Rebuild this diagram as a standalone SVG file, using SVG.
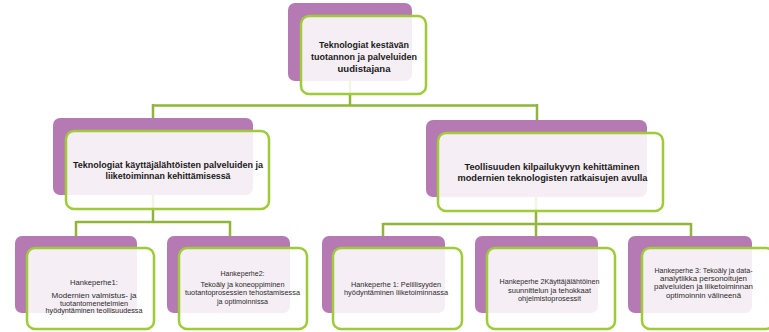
<svg xmlns="http://www.w3.org/2000/svg" width="769" height="332" viewBox="0 0 769 332">
  <style>
    .back { fill: #b57ab3; }
    .front { fill: #ffffff; fill-opacity: 0.87; stroke: #9fcb3a; stroke-width: 2.5; }
    .link { fill: none; stroke: #8fb63a; stroke-width: 2.5; }
    .h1 { font-family: "Liberation Sans", Arial, sans-serif; font-weight: bold; font-size: 9px; fill: #1a1a1a; text-anchor: middle; }
    .h3 { font-family: "Liberation Sans", Arial, sans-serif; font-size: 7.6px; fill: #2a2a2a; text-anchor: middle; }
  </style>
  <rect width="769" height="332" fill="#ffffff"/>

  <!-- connectors, drawn beneath the boxes -->
  <g id="connectors">
    <path class="link" d="M350,80 V105.5 M153,105.5 H537 M153,104 V119 M537,104 V121"/>
    <path class="link" d="M153,194 V222 M76,222 H230 M76,221 V237 M230,221 V237"/>
    <path class="link" d="M536,196 V224 M383,224 H691 M383,223 V237 M536,223 V237 M691,223 V237"/>
  </g>

  <!-- top level -->
  <g id="n-root">
    <rect class="back" x="288" y="3" width="124" height="78" rx="7"/>
    <rect class="front" x="301" y="16" width="125" height="78" rx="8"/>
    <text class="h1"><tspan x="364" y="47.5" textLength="90" lengthAdjust="spacingAndGlyphs">Teknologiat kestävän</tspan><tspan x="364" y="60" textLength="106" lengthAdjust="spacingAndGlyphs">tuotannon ja palveluiden</tspan><tspan x="364" y="72" textLength="53" lengthAdjust="spacingAndGlyphs">uudistajana</tspan></text>
  </g>

  <!-- second level -->
  <g id="n-user-driven">
    <rect class="back" x="53" y="118" width="200" height="77" rx="7"/>
    <rect class="front" x="66" y="131" width="203" height="78" rx="8"/>
    <text class="h1"><tspan x="168" y="167.5" textLength="190" lengthAdjust="spacingAndGlyphs">Teknologiat käyttäjälähtöisten palveluiden ja</tspan><tspan x="168" y="178.5" textLength="125" lengthAdjust="spacingAndGlyphs">liiketoiminnan kehittämisessä</tspan></text>
  </g>

  <g id="n-industry">
    <rect class="back" x="426" y="120" width="221" height="77" rx="7"/>
    <rect class="front" x="438" y="133" width="225" height="78" rx="8"/>
    <text class="h1"><tspan x="552" y="169.5" textLength="175" lengthAdjust="spacingAndGlyphs">Teollisuuden kilpailukyvyn kehittäminen</tspan><tspan x="552.5" y="181" textLength="190" lengthAdjust="spacingAndGlyphs">modernien teknologisten ratkaisujen avulla</tspan></text>
  </g>

  <!-- third level -->
  <g id="n-family-1a">
    <rect class="back" x="15" y="236" width="122" height="77" rx="7"/>
    <rect class="front" x="27" y="248" width="127" height="81" rx="8"/>
    <text class="h3"><tspan x="94" y="285.3" textLength="48" lengthAdjust="spacingAndGlyphs">Hankeperhe1:</tspan><tspan x="94" y="298" textLength="85" lengthAdjust="spacingAndGlyphs">Modernien valmistus- ja</tspan><tspan x="94" y="305.5" textLength="68" lengthAdjust="spacingAndGlyphs">tuotantomenetelmien</tspan><tspan x="94" y="313" textLength="97" lengthAdjust="spacingAndGlyphs">hyödyntäminen teollisuudessa</tspan></text>
  </g>

  <g id="n-family-2a">
    <rect class="back" x="167" y="236" width="123" height="77" rx="7"/>
    <rect class="front" x="179" y="248" width="128" height="81" rx="8"/>
    <text class="h3"><tspan x="242.5" y="276" textLength="44" lengthAdjust="spacingAndGlyphs">Hankeperhe2:</tspan><tspan x="242.5" y="286.8" textLength="84" lengthAdjust="spacingAndGlyphs">Tekoäly ja koneoppiminen</tspan><tspan x="242.5" y="295.2" textLength="115" lengthAdjust="spacingAndGlyphs">tuotantoprosessien tehostamisessa</tspan><tspan x="242.5" y="303.5" textLength="51" lengthAdjust="spacingAndGlyphs">ja optimoinnissa</tspan></text>
  </g>

  <g id="n-family-1b">
    <rect class="back" x="322" y="236" width="123" height="77" rx="7"/>
    <rect class="front" x="333" y="248" width="129" height="81" rx="8"/>
    <text class="h3"><tspan x="396" y="286.7" textLength="90" lengthAdjust="spacingAndGlyphs">Hankeperhe 1: Pelillisyyden</tspan><tspan x="396" y="295" textLength="104" lengthAdjust="spacingAndGlyphs">hyödyntäminen liiketoiminnassa</tspan></text>
  </g>

  <g id="n-family-2b">
    <rect class="back" x="475" y="236" width="123" height="77" rx="7"/>
    <rect class="front" x="487" y="248" width="128" height="81" rx="8"/>
    <text class="h3"><tspan x="549.5" y="284.3" textLength="100" lengthAdjust="spacingAndGlyphs">Hankeperhe 2Käyttäjälähtöinen</tspan><tspan x="549.5" y="292.7" textLength="83" lengthAdjust="spacingAndGlyphs">suunnittelun ja tehokkaat</tspan><tspan x="549.5" y="301" textLength="63" lengthAdjust="spacingAndGlyphs">ohjelmistoprosessit</tspan></text>
  </g>

  <g id="n-family-3b">
    <rect class="back" x="628" y="236" width="124" height="77" rx="7"/>
    <rect class="front" x="642" y="248" width="132" height="81" rx="8"/>
    <text class="h3"><tspan x="703.5" y="272.7" textLength="98" lengthAdjust="spacingAndGlyphs">Hankeperhe 3: Tekoäly ja data-</tspan><tspan x="703.5" y="281" textLength="87" lengthAdjust="spacingAndGlyphs">analytiikka personoitujen</tspan><tspan x="703.5" y="289.3" textLength="99" lengthAdjust="spacingAndGlyphs">palveluiden ja liiketoiminnan</tspan><tspan x="703.5" y="297.7" textLength="75" lengthAdjust="spacingAndGlyphs">optimoinnin välineenä</tspan></text>
  </g>
</svg>
